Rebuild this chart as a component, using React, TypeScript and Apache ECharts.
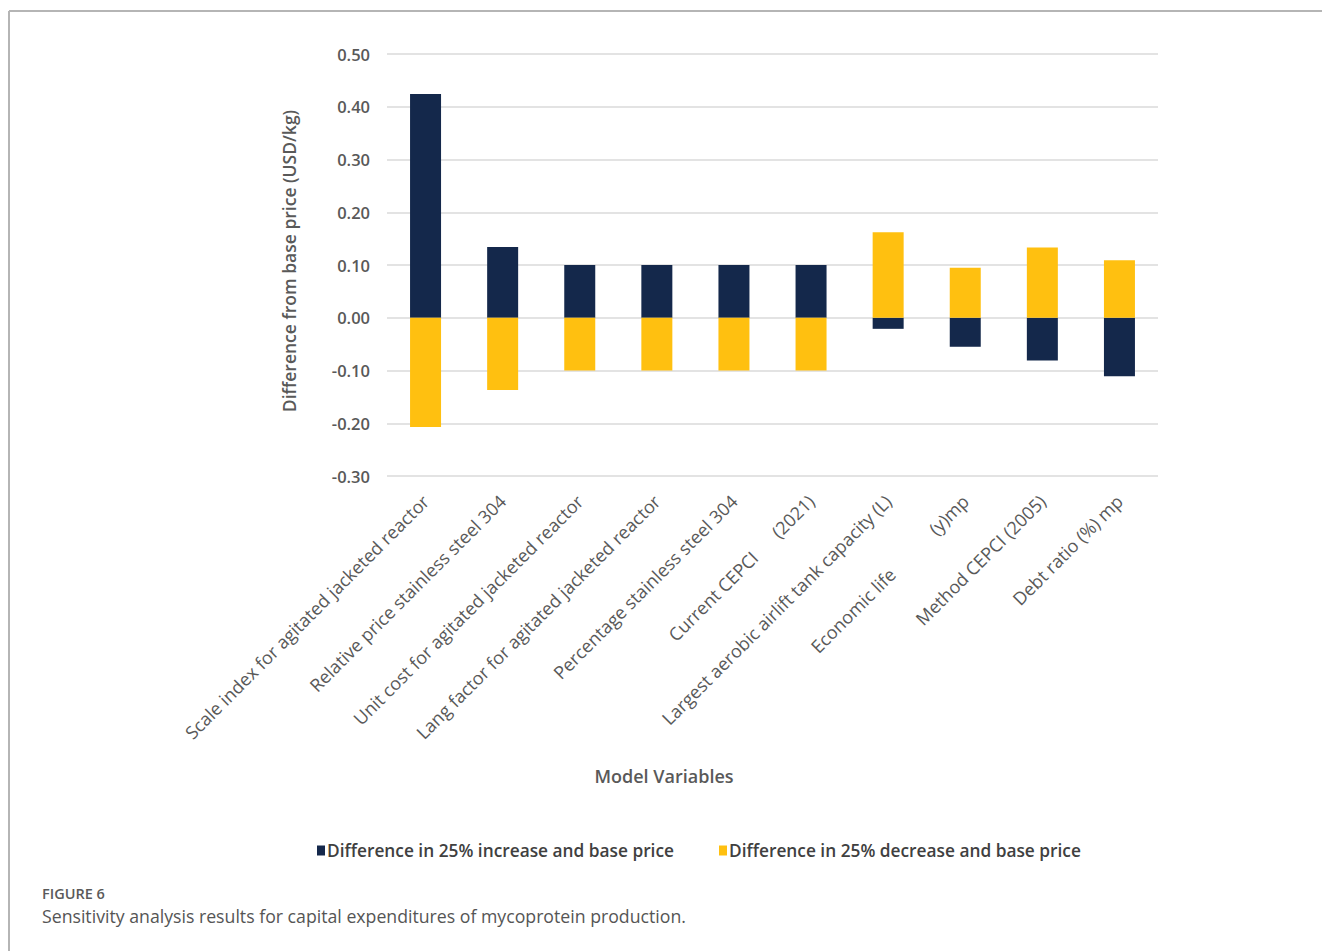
import React, { useEffect, useRef } from "react";
import * as echarts from "echarts";

const categories = [
  "Scale index for agitated jacketed reactor",
  "Relative price stainless steel 304",
  "Unit cost for agitated jacketed reactor",
  "Lang factor for agitated jacketed reactor",
  "Percentage stainless steel 304",
  "Current CEPCI\u00a0\u00a0\u00a0\u00a0\u00a0\u00a0(2021)",
  "Largest aerobic airlift tank capacity (L)",
  "Economic life\u00a0\u00a0\u00a0\u00a0\u00a0\u00a0\u00a0\u00a0\u00a0\u00a0\u00a0\u00a0(y)mp",
  "Method CEPCI (2005)",
  "Debt ratio (%) mp",
];
const increaseValues = [0.424, 0.134, 0.1, 0.1, 0.1, 0.1, -0.021, -0.055, -0.081, -0.111];
const decreaseValues = [-0.207, -0.137, -0.1, -0.1, -0.1, -0.1, 0.162, 0.095, 0.133, 0.109];
const seriesNames = [
  "Difference in 25% increase and base price",
  "Difference in 25% decrease and base price",
];
const yTicks = { min: -0.3, max: 0.5, interval: 0.1 };

const FONT = "'Open Sans', 'Noto Sans', sans-serif";

export default function App() {
  const ref = useRef<HTMLDivElement>(null);
  useEffect(() => {
    const chart = echarts.init(ref.current!, null, { renderer: "svg" });
    chart.setOption({
      animation: false,
      backgroundColor: "#ffffff",
      textStyle: { fontFamily: FONT },
      grid: { left: 387, right: 164, top: 54, bottom: 475, containLabel: false },
      legend: {
        left: 312,
        top: 837,
        itemWidth: 8,
        itemHeight: 10,
        itemGap: 45,
        icon: "rect",
        textStyle: { fontFamily: FONT, fontSize: 17.3, fontWeight: 600, color: "#404040", padding: [0, 0, 0, -3] },
        data: seriesNames,
      },
      xAxis: {
        type: "category",
        data: categories,
        axisLine: { show: false },
        axisTick: { show: false },
        axisLabel: {
          interval: 0,
          rotate: 45,
          margin: 22,
          fontFamily: FONT,
          fontSize: 18,
          color: "#595959",
        },
      },
      yAxis: {
        type: "value",
        min: yTicks.min,
        max: yTicks.max,
        interval: yTicks.interval,
        axisLine: { show: false },
        axisTick: { show: false },
        splitLine: { lineStyle: { color: "#e3e3e3", width: 2 } },
        axisLabel: {
          margin: 17,
          fontFamily: FONT,
          fontSize: 16.5,
          fontWeight: 600,
          color: "#595959",
          formatter: (v: number) => v.toFixed(2),
        },
      },
      series: [
        {
          name: seriesNames[0],
          type: "bar",
          stack: "s",
          barWidth: 31,
          data: increaseValues,
          itemStyle: { color: "#14284b" },
        },
        {
          name: seriesNames[1],
          type: "bar",
          stack: "s",
          barWidth: 31,
          data: decreaseValues,
          itemStyle: { color: "#ffc010" },
        },
      ],
      graphic: [
        { type: "line", shape: { x1: 9, y1: 11, x2: 1322, y2: 11 }, style: { stroke: "#b5b5b5", lineWidth: 2 } },
        { type: "line", shape: { x1: 9, y1: 11, x2: 9, y2: 951 }, style: { stroke: "#b5b5b5", lineWidth: 2 } },
        {
          type: "text",
          x: 289,
          y: 261,
          rotation: Math.PI / 2,
          style: {
            text: "Difference from base price (USD/kg)",
            font: `600 17.5px ${FONT}`,
            fill: "#595959",
            align: "center",
            verticalAlign: "middle",
          },
        },
        {
          type: "text",
          x: 664,
          y: 776,
          style: {
            text: "Model Variables",
            font: `600 18px ${FONT}`,
            fill: "#595959",
            align: "center",
            verticalAlign: "middle",
          },
        },
        {
          type: "text",
          x: 42,
          y: 893,
          style: {
            text: "FIGURE 6",
            font: `600 14.5px ${FONT}`,
            fill: "#5a5a5a",
            align: "left",
            verticalAlign: "middle",
          },
        },
        {
          type: "text",
          x: 42,
          y: 916,
          style: {
            text: "Sensitivity analysis results for capital expenditures of mycoprotein production.",
            font: `400 17.7px ${FONT}`,
            fill: "#555555",
            align: "left",
            verticalAlign: "middle",
          },
        },
      ],
    });
    return () => chart.dispose();
  }, []);
  return (
    <div
      ref={ref}
      style={{ position: "fixed", left: 0, top: 0, width: 1322, height: 951, background: "#fff" }}
    />
  );
}
